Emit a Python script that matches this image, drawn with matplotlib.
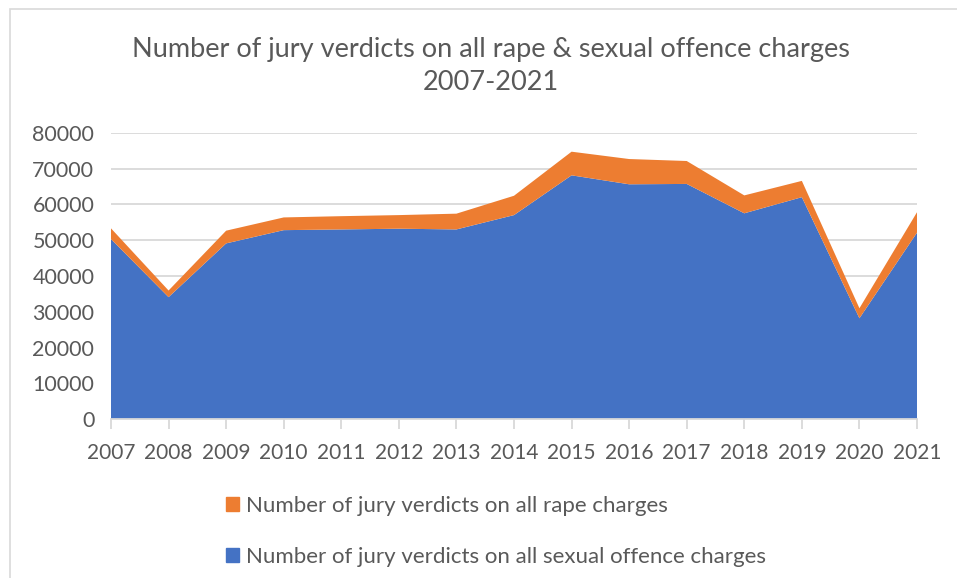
import matplotlib.pyplot as plt
from matplotlib.patches import Patch, Rectangle

# data
years = [2007, 2008, 2009, 2010, 2011, 2012, 2013, 2014, 2015, 2016, 2017, 2018, 2019, 2020, 2021]
sexual_offence = [50300, 34100, 49100, 52800, 53000, 53200, 53000, 57000, 68100, 65600, 65700, 57500, 62000, 28200, 52100]
rape = [3000, 1850, 3550, 3550, 3700, 3800, 4400, 5400, 6600, 7050, 6400, 5000, 4550, 2800, 5700]

series_labels = ["Number of jury verdicts on all sexual offence charges",
                 "Number of jury verdicts on all rape charges"]
title = "Number of jury verdicts on all rape & sexual offence charges\n2007-2021"

blue = "#4472C4"
orange = "#ED7D31"
grey_text = "#595959"
grid_col = "#d9d9d9"

plt.rcParams['font.family'] = ['Lato', 'DejaVu Sans']

fig = plt.figure(figsize=(9.57, 5.78), dpi=100)
W, H = 957, 578

# outer chart frame (cut off on the right and bottom)
fig.add_artist(Rectangle((10 / W, -0.1), 2, 1.1 - 9 / H, transform=fig.transFigure,
                         fill=False, edgecolor=grid_col, linewidth=1.2))

ax = fig.add_axes([111 / W, 1 - 419.3 / H, (917 - 111) / W, (419.3 - 132.7) / H])
ax.stackplot(years, sexual_offence, rape, colors=[blue, orange], linewidth=0, zorder=2)

ax.set_xlim(2007, 2021)
ax.set_ylim(0, 80000)
ax.set_xticks(years)
ax.set_yticks(range(0, 80001, 10000))
ax.yaxis.grid(True, color=grid_col, linewidth=1.3, zorder=0)
ax.set_axisbelow(True)
for s in ['top', 'right', 'left']:
    ax.spines[s].set_visible(False)
ax.spines['bottom'].set_color(grid_col)
ax.spines['bottom'].set_linewidth(1.3)
ax.tick_params(axis='x', direction='out', length=7, width=1.3, color=grid_col,
               labelsize=15, labelcolor=grey_text, pad=10)
ax.tick_params(axis='y', length=0, labelsize=15.5, labelcolor=grey_text, pad=12)

fig.text(491 / W, 1 - 66 / H, title, ha='center', va='center', fontsize=19.5,
         color=grey_text, linespacing=1.35)

handles = [Patch(color=orange), Patch(color=blue)]
fig.legend(handles, [series_labels[1], series_labels[0]], loc='upper left',
           bbox_to_anchor=(226 / W, 1 - 496 / H), frameon=False, fontsize=16,
           labelcolor=grey_text, handlelength=0.6, handleheight=0.6,
           handletextpad=0.3, labelspacing=1.4, borderaxespad=0, borderpad=0)

fig.savefig("out.png", dpi=100)
